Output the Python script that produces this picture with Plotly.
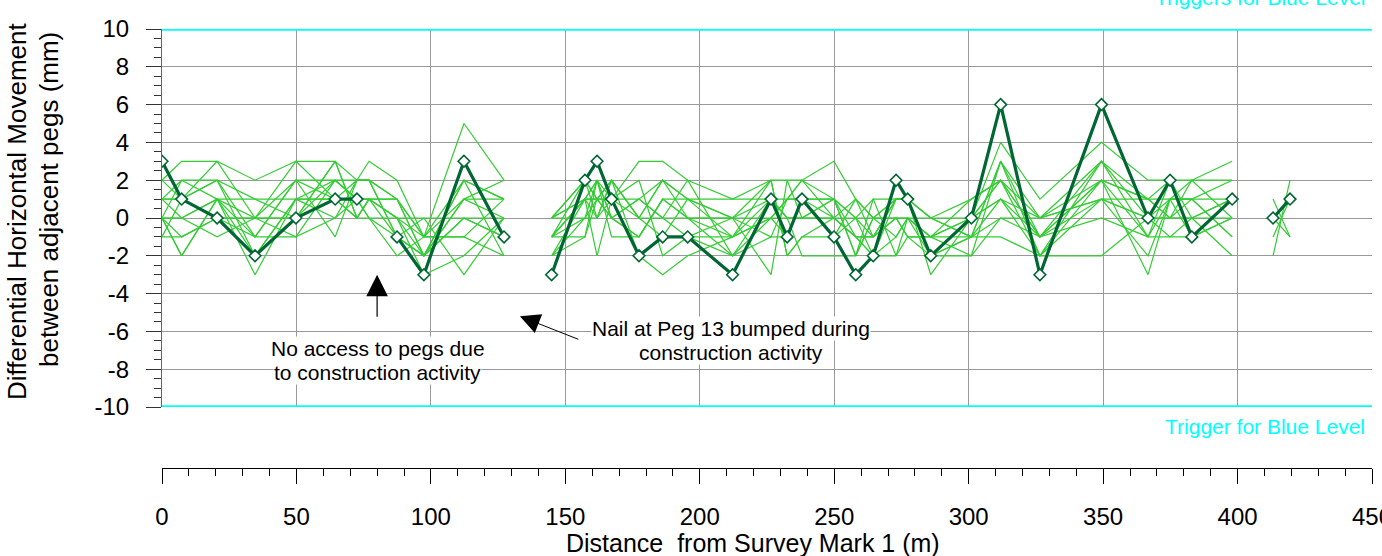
import plotly.graph_objects as go

# ---------------- data ----------------
peg_distance = [0, 7.3, 20.5, 34.6, 49.8, 64.4, 72.5, 77, 87.4, 97.4, 112.3, 127.2,
                144.9, 157.3, 161.8, 167.2, 177.4, 186.2, 195.5, 212.2, 226.5, 232.5,
                238, 249.9, 258, 264.5, 273, 277.3, 285.9, 301, 311.9, 326.5, 349.4,
                366.7, 374.9, 383, 398,
                413.2, 419.5]

latest_round = [3, 1, 0, -2, 0, 1, 1, None, -1, -3, 3, -1,
                -3, 2, 3, 1, -2, -1, -1, -3, 1, -1, 1, -1, -3, -2, 2, 1, -2, 0, 6, -3, 6, 0, 2, -1, 1,
                0, 1]

round_01 = [2, 3, 3, 0, 3, 3, 2, 3, 2, -1, 5, 2,
            0, 1, 2, 1, 3, 3, 2, 1, 2, 2, 2, 3, 1, -1, 1, 1, 0, 0, 4, 1, 4, 2, 2, 2, 3,
            1, -1]
round_02 = [1, 2, 2, -1, 2, 2, 1, 1, 1, -2, 2, 1,
            -1, 2, 1, 2, 0, 2, 1, 0, 1, 1, 1, 1, 0, 0, 0, 0, -1, -1, 3, -1, 3, 1, 1, 1, 2,
            -1, 1]
round_03 = [1, 1, 2, -2, 1, 1, 2, 2, -1, -2, 1, 0,
            -2, 1, 2, 0, -1, 1, 0, -1, 0, 0, 0, 0, -1, -2, -2, -1, -2, -2, 3, -2, 3, 0, 0, 0, 1,
            -2, 2]
round_04 = [0, 0, 1, 1, 0, 3, 0, 0, 0, 0, 0, -1,
            0, 0, 0, 1, 1, 0, -1, -2, -1, -1, 1, 1, -2, 1, 1, 1, -3, 0, 2, 0, 2, -1, -1, -1, 0,
            0, -1]
round_05 = [0, -1, 0, 0, -1, 0, 1, 1, 1, -1, -1, -2,
            -1, -1, 1, 2, 0, -1, 1, 0, 2, -2, -1, -1, 0, -1, 0, 0, -1, 1, 2, -1, 2, -3, 1, 1, -1,
            None, None]
round_06 = [0, -2, 1, -3, 1, 2, 2, 2, -1, -2, 2, 1,
            -1, 1, -2, 1, -2, -3, -2, -1, 0, 1, 2, 0, 1, 0, 1, 1, 0, -1, 1, -2, 1, 1, 2, 0, -2,
            None, None]
round_07 = [-1, 1, 3, 2, 3, 1, 0, 1, 0, -3, -2, 0,
            0, 2, 1, 0, 1, 2, 0, 0, -3, 2, 0, 1, -1, -2, -1, 0, -2, 0, 1, 0, 1, 0, 0, 2, 2,
            None, None]
round_08 = [1, 0, -1, 0, 0, 2, 1, 0, -2, -1, 1, 2,
            -2, 0, 2, -1, -1, 1, 1, 1, 1, 0, -2, -2, -2, 0, 0, -1, -1, -2, 0, -1, 0, -1, 1, -1, 1,
            None, None]
round_09 = [0, 2, 1, -1, 2, -1, 2, 2, 1, -2, 0, -1,
            -1, 1, 0, 2, 0, 0, 2, -2, 0, -1, 1, 0, -1, -1, 1, 1, 0, -1, -1, -2, -2, 0, -1, 0, 0,
            None, None]
round_10 = [2, 1, 2, 1, 1, 1, 1, 1, -1, 0, -3, 0,
            0, 1, 1, 1, 2, -2, -1, -1, 1, 0, 0, 1, 0, 1, -2, 0, -1, 0, 2, -1, 2, 1, 0, 1, 1,
            None, None]
round_11 = [-1, -1, 0, 0, 0, 3, 0, 1, 0, -2, 1, 1,
            -2, -1, 2, 0, -1, 1, 0, 0, -1, 1, 1, -1, 1, 0, 1, 1, -2, -1, 3, 0, 3, -1, 2, -1, 0,
            None, None]
round_12 = [0, 0, 1, -2, 1, 0, 2, 2, 1, -1, 2, -2,
            -1, 0, 1, 1, 0, 2, 1, -1, 2, -2, -1, 0, -1, -1, 0, -1, -1, 0, 1, -1, 1, 0, 1, 1, -1,
            None, None]
round_13 = [1, 1, 0, -1, -1, 2, 1, 0, -1, -2, 0, 0,
            0, 2, 0, 2, -2, -1, -1, 0, 0, 1, 2, 1, -2, 0, -1, 0, 0, 1, 2, -2, 2, 1, 0, 0, 1,
            None, None]
round_14 = [0, -2, 1, 0, 2, 1, 0, 1, 0, -1, -1, 1,
            -1, 1, 1, 0, 1, 0, 0, -2, 1, 0, 0, 0, 0, -2, 1, 1, -2, -1, 0, 0, 1, -2, 1, 2, 0,
            None, None]

trigger_level = 10
x_ticks = [0, 50, 100, 150, 200, 250, 300, 350, 400, 450]
y_ticks = [10, 8, 6, 4, 2, 0, -2, -4, -6, -8, -10]
y_tick_labels = ["10", "8", "6", "4", "2", "0", "-2", "-4", "-6", "-8", "-10"]

earlier_rounds = [round_01, round_02, round_03, round_04, round_05, round_06, round_07,
                  round_08, round_09, round_10, round_11, round_12, round_13, round_14]

for r in earlier_rounds + [latest_round]:
    assert len(r) == len(peg_distance)


def with_gaps(v):
    # no survey data between 127 m and 145 m, and between 398 m and 413 m
    return list(v[:12]) + [None] + list(v[12:37]) + [None] + list(v[37:])


FONT = "Liberation Sans, Arial, sans-serif"
LIGHT = "#33cc33"
DARK = "#006633"
GRID = "#999999"

fig = go.Figure()
xg = with_gaps(peg_distance)
for r in earlier_rounds:
    fig.add_trace(go.Scatter(x=xg, y=with_gaps(r), mode="lines",
                             line=dict(color=LIGHT, width=1.2),
                             connectgaps=False, hoverinfo="skip"))

fig.add_trace(go.Scatter(x=xg, y=with_gaps(latest_round), mode="lines+markers",
                         line=dict(color=DARK, width=3.2),
                         marker=dict(symbol="diamond", size=9, color="white",
                                     line=dict(color=DARK, width=1.6)),
                         connectgaps=False))

fig.add_hline(y=trigger_level, line=dict(color="#00ffff", width=3.5))
fig.add_hline(y=-trigger_level, line=dict(color="#00ffff", width=3.5))

fig.update_layout(
    width=1382, height=556,
    margin=dict(l=162, r=10, t=29, b=88, autoexpand=False),
    paper_bgcolor="white", plot_bgcolor="white",
    showlegend=False,
    font=dict(family=FONT, color="black"),
    xaxis=dict(range=[0, 450], tickvals=x_ticks, anchor="free", position=0,
               ticks="outside", ticklen=15, tickwidth=1, tickcolor="black",
               minor=dict(dtick=10, ticks="outside", ticklen=7, tickcolor="black", showgrid=False),
               showline=True, linecolor="black", linewidth=1,
               showgrid=True, gridcolor=GRID, gridwidth=1, zeroline=False,
               tickfont=dict(size=24, family=FONT, color="black"),
               ticklabelstandoff=12, ticklabeloverflow="allow", automargin=False),
    yaxis=dict(range=[-10, 10], tickvals=y_ticks, ticktext=y_tick_labels,
               domain=[(468 - 407) / 439, 1],
               ticks="outside", ticklen=15, tickwidth=1, tickcolor="#333333",
               minor=dict(dtick=0.5, ticks="outside", ticklen=7, tickcolor="#333333", showgrid=False),
               showline=True, linecolor="#666666", linewidth=1,
               showgrid=True, gridcolor=GRID, gridwidth=1, zeroline=False,
               tickfont=dict(size=24, family=FONT, color="black"),
               ticklabelstandoff=12, ticklabeloverflow="allow", automargin=False),
)


def px_x(px):
    return (px - 162) / 1210.0


def px_y(py):
    return (468 - py) / 439.0


ann = []
# y title (two lines)
ann.append(dict(text="Differential Horizontal Movement", xref="paper", yref="paper",
                x=px_x(17), y=px_y(212), textangle=-90, showarrow=False,
                font=dict(size=26, family=FONT, color="black"), xanchor="center", yanchor="middle"))
ann.append(dict(text="between adjacent pegs (mm)", xref="paper", yref="paper",
                x=px_x(49), y=px_y(200), textangle=-90, showarrow=False,
                font=dict(size=26, family=FONT, color="black"), xanchor="center", yanchor="middle"))
# x title
ann.append(dict(text="Distance\u00a0 from Survey Mark 1 (m)", xref="paper", yref="paper",
                x=px_x(753), y=px_y(543), showarrow=False,
                font=dict(size=25, family=FONT, color="black"), xanchor="center", yanchor="middle"))
# trigger labels
ann.append(dict(text="Triggers for Blue Level", xref="paper", yref="paper",
                x=px_x(1367), y=px_y(-3), showarrow=False, xanchor="right", yanchor="middle",
                font=dict(size=21, family=FONT, color="#00ffff")))
ann.append(dict(text="Trigger for Blue Level", xref="paper", yref="paper",
                x=px_x(1367), y=px_y(426), showarrow=False, xanchor="right", yanchor="middle",
                font=dict(size=21, family=FONT, color="#00ffff")))
# notes
for txt, xx, yy in [("No access to pegs due", 80.3, -6.88),
                    ("to construction activity", 80.3, -8.15),
                    ("Nail at Peg 13 bumped during", 211.6, -5.87),
                    ("construction activity", 211.6, -7.14)]:
    ann.append(dict(text=txt, x=xx, y=yy, xref="x", yref="y", showarrow=False,
                    bgcolor="white", borderpad=0,
                    font=dict(size=21, family=FONT, color="black")))
# arrows
ann.append(dict(text="", x=80, y=-3.0, ax=80, ay=-5.3, xref="x", yref="y",
                axref="x", ayref="y", showarrow=True, arrowhead=2, arrowsize=3.6,
                arrowwidth=1.2, arrowcolor="black"))
ann.append(dict(text="", x=133.1, y=-5.2, ax=155.4, ay=-6.45, xref="x", yref="y",
                axref="x", ayref="y", showarrow=True, arrowhead=2, arrowsize=4.0,
                arrowwidth=1.0, arrowcolor="black"))
fig.update_layout(annotations=ann)

fig.write_html("out.html", config={"displayModeBar": False},
               post_script="document.body.style.margin='0';")
